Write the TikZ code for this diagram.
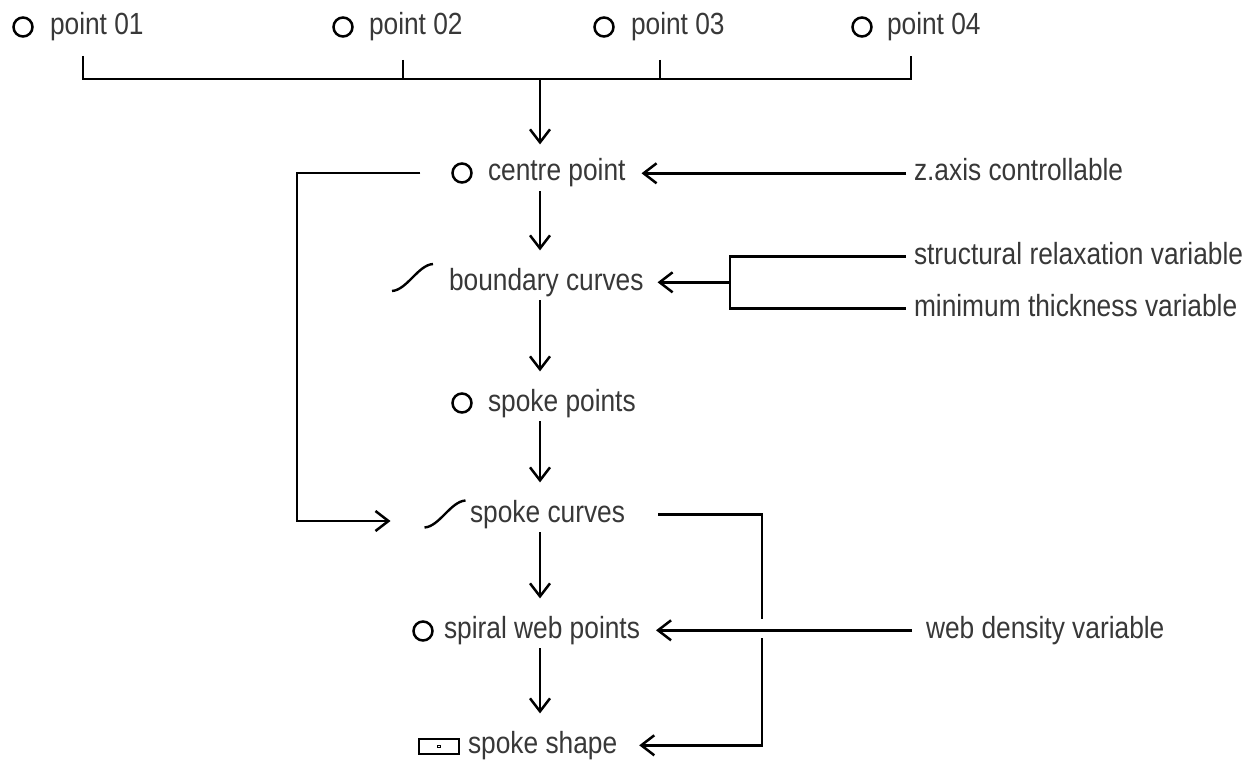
\documentclass[tikz,border=0pt]{standalone}
\usepackage{fontspec}
\newfontfamily\lblfont{Liberation Sans}[FakeStretch=0.86]
\usetikzlibrary{arrows.meta,calc}
\begin{document}
\begin{tikzpicture}[x=0.5pt,y=-0.5pt,
  ln/.style={line width=1.25pt,black},
  arr/.style={ln,-{Straight Barb[length=6.5pt,width=10pt]}},
  lbl/.style={anchor=base west,inner sep=0pt,outer sep=0pt,
    text height=10.8pt,text depth=3.1pt,text=black!78,
    font=\lblfont\fontsize{15.3}{18}\selectfont},
  dot/.style={circle,draw,line width=1.25pt,minimum size=9.5pt,inner sep=0pt},
  curveico/.style={inner sep=0pt,outer sep=0pt,minimum width=20.5pt,minimum height=13.5pt},
  boxico/.style={draw,line width=1.2pt,minimum width=20pt,minimum height=7.5pt,inner sep=0pt},
  spine/.style={arr,shorten <=2pt,shorten >=9pt}]

\fill[white] (0,0) rectangle (1254,765);
\useasboundingbox (0,0) rectangle (1254,765);

% input points
\node[dot] (p1i) at (23,27) {};  \node[lbl] (p1) at (50,35)  {point 01};
\node[dot] (p2i) at (343,27) {}; \node[lbl] (p2) at (369,35) {point 02};
\node[dot] (p3i) at (604,27) {}; \node[lbl] (p3) at (631,35) {point 03};
\node[dot] (p4i) at (862,27) {}; \node[lbl] (p4) at (887,35) {point 04};

% main chain
\node[dot] (cpi) at (462,173) {};
\node[lbl] (cp) at (488,181) {centre point};

\node[curveico] (bci) at (412.5,277.5) {};
\draw[line width=1.2pt] (bci.south west) .. controls +(15,-1) and +(-15,1) .. (bci.north east);
\node[lbl] (bc) at (449,290) {boundary curves};

\node[dot] (spi) at (462,403) {};
\node[lbl] (sp) at (488,411) {spoke points};

\node[curveico] (sci) at (445,514) {};
\draw[line width=1.2pt] (sci.south west) .. controls +(15,-1) and +(-15,1) .. (sci.north east);
\node[lbl] (sc) at (470,522) {spoke curves};

\node[dot] (swi) at (423,631) {};
\node[lbl] (sw) at (444,638) {spiral web points};

\node[boxico] (ssi) at (439,746.5) {};
\node[draw,line width=0.4pt,minimum size=1.2pt,inner sep=0pt] (ssdot) at (ssi.center) {};
\node[lbl] (ss) at (468,753) {spoke shape};

% parameters
\node[lbl] (zx) at (914,181) {z.axis controllable};
\node[lbl] (sr) at (914,264) {structural relaxation variable};
\node[lbl] (mt) at (914,316) {minimum thickness variable};
\node[lbl] (wd) at (926,638) {web density variable};

% bracket gathering the input points
\coordinate (t1) at (83,56);
\coordinate (t2) at (403,60);
\coordinate (t3) at (660,60);
\coordinate (t4) at (911,56);
\coordinate (hub) at (540,79);
\draw[ln] (t1) |- (hub) -| (t4);
\draw[ln] (t2) -- (t2 |- hub);
\draw[ln] (t3) -- (t3 |- hub);
\draw[arr,shorten >=7.5pt] (hub) -- (hub |- cp.north);

% vertical flow
\draw[spine] (cp.south -| hub) -- (bc.north -| hub);
\draw[spine] (bc.south -| hub) -- (sp.north -| hub);
\draw[spine] (sp.south -| hub) -- (sc.north -| hub);
\draw[spine] (sc.south -| hub) -- (sw.north -| hub);
\draw[spine] (sw.south -| hub) -- (ss.north -| hub);

% parameter inputs
\draw[arr,shorten <=4pt,shorten >=8pt] (zx.west) -- (zx.west -| cp.east);
\coordinate (bk) at (730,282);
\draw[ln,shorten <=4pt,shorten >=4pt] (sr.west) -| (bk) |- (mt.west);
\draw[arr,shorten >=7pt] (bk |- bc.east) -- (bc.east);
\draw[arr,shorten <=7pt,shorten >=8pt] (wd.west) -- (wd.west -| sw.east);

% centre point feeding the spoke curves
\coordinate (lbend) at (297,521);
\draw[arr,shorten <=15.5pt,shorten >=17pt] (cpi.west) -| (lbend) -- (lbend -| sci.west);

% spoke curves feeding the spoke shape (broken where it crosses the web line)
\coordinate (jt) at (762,619);
\coordinate (jb) at (762,638);
\draw[ln,shorten <=16.5pt] (sc.east) -| (jt);
\draw[arr,shorten >=11pt] (jb) |- (ss.east);

\end{tikzpicture}
\end{document}
